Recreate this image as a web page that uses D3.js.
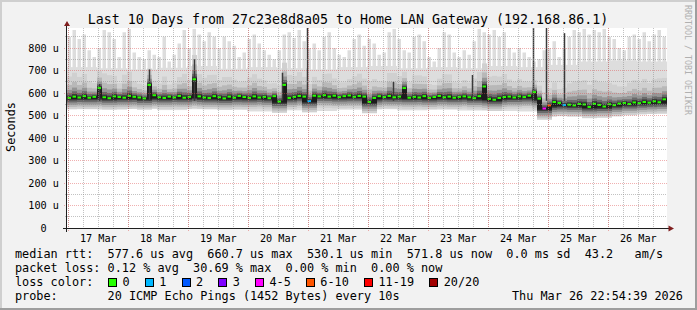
<!DOCTYPE html>
<html>
<head>
<meta charset="utf-8">
<script src="https://cdn.jsdelivr.net/npm/d3@7"></script>
<style>
html, body { margin: 0; padding: 0; background: #f2f2f2; }
svg { display: block; }
text { font-family: "DejaVu Sans Mono", monospace; white-space: pre; }
</style>
</head>
<body>
<svg id="chart" width="697" height="310"></svg>
<script>
// ---- 1. DATA ----
const parse = d3.timeParse("%Y-%m-%d %H:%M");
const startTime = parse("2026-03-16 23:29");
const endTime   = parse("2026-03-26 23:29");

// median rtt, one value every 2 hours (microseconds)
const medianUs = [
  578, 584, 580, 586, 579, 583, 622, 581, 577, 585,
  582, 579, 587, 583, 580, 576, 636, 590, 581, 578,
  584, 580, 587, 579, 583, 661, 585, 580, 578, 586,
  581, 576, 584, 579, 587, 582, 578, 585, 580, 583,
  577, 586, 562, 636, 578, 583, 587, 584, 564, 588,
  585, 590, 584, 588, 582, 586, 589, 583, 587, 584,
  560, 578, 586, 582, 587, 581, 584, 622, 579, 583,
  580, 586, 578, 582, 587, 581, 584, 579, 583, 585,
  581, 577, 586, 629, 574, 570, 578, 582, 584, 580,
  585, 582, 588, 604, 575, 531, 545, 560, 556, 547,
  548, 545, 551, 549, 538, 552, 547, 540, 550, 546,
  553, 556, 551, 558, 555, 560, 557, 563, 559, 572
];

// highest ping of each 2 hour slot (microseconds)
const maxUs = [
  850, 880, 840, 860, 790, 760, 800, 880, 870, 840,
  760, 870, 885, 780, 760, 750, 790, 770, 760, 850,
  740, 770, 820, 880, 800, 885, 860, 830, 870, 850,
  800, 850, 830, 810, 760, 780, 840, 860, 820, 790,
  770, 750, 790, 860, 870, 845, 880, 830, 800, 820,
  790, 850, 870, 800, 770, 760, 790, 840, 860, 810,
  840, 820, 770, 780, 870, 885, 840, 790, 780, 850,
  860, 830, 760, 740, 800, 870, 860, 780, 760, 790,
  770, 830, 885, 870, 860, 880, 850, 870, 800, 780,
  800, 780, 760, 740, 750, 790, 800, 830, 760, 800,
  850, 880, 870, 885, 860, 880, 870, 885, 850, 840,
  800, 790, 850, 860, 840, 870, 830, 860, 880, 850
];

// dense part of the smoke, one value every 12 hours (microseconds)
const capUs = [715, 710, 705, 712, 720, 708, 715, 710, 705, 715,
               720, 710, 715, 710, 720, 715, 725, 740, 745, 740];
const minUs = [528, 526, 530, 524, 528, 525, 518, 523, 520, 526,
               528, 523, 526, 522, 520, 518, 512, 503, 506, 508];

// slots with packet loss
const lossTimes  = ["2026-03-20 23:29", "2026-03-24 21:29", "2026-03-24 23:29", "2026-03-25 05:29"];
const lossCounts = [1, 5, 6, 1];

// dark streaks of single slow pings
const streakTimes = ["2026-03-17 12:40", "2026-03-18 08:40", "2026-03-19 02:40", "2026-03-20 13:50",
                     "2026-03-20 23:30", "2026-03-22 10:15", "2026-03-23 17:50", "2026-03-24 18:05",
                     "2026-03-24 23:20", "2026-03-25 06:40"];
const streakTopUs = [640, 705, 750, 690, 889, 650, 680, 889, 889, 866];

const yTicks   = [0, 100, 200, 300, 400, 500, 600, 700, 800];
const yLabels  = ["0  ", "100 u", "200 u", "300 u", "400 u", "500 u", "600 u", "700 u", "800 u"];
const dayLabels = ["17 Mar", "18 Mar", "19 Mar", "20 Mar", "21 Mar", "22 Mar", "23 Mar", "24 Mar", "25 Mar", "26 Mar"];

const lossLabels = ["0", "1", "2", "3", "4-5", "6-10", "11-19", "20/20"];
const lossColors = ["#26ff00", "#00b8ff", "#0059ff", "#7e00ff", "#ff00ff", "#ff5500", "#ff0000", "#a10000"];

const title = "Last 10 Days from 27c23e8d8a05 to Home LAN Gateway (192.168.86.1)";
const rttRow   = "median rtt:  577.6 us avg  660.7 us max  530.1 us min  571.8 us now  0.0 ms sd  43.2   am/s";
const lossRow  = "packet loss: 0.12 % avg  30.69 % max  0.00 % min  0.00 % now";
const probeRow = "probe:       20 ICMP Echo Pings (1452 Bytes) every 10s";
const stamp    = "Thu Mar 26 22:54:39 2026";

// ---- 2. SVG + SCALES ----
const W = 697, H = 310;
const plot = {left: 67, right: 667, top: 28, bottom: 228};
const svg = d3.select("#chart");

const x = d3.scaleTime().domain([startTime, endTime]).range([plot.left, plot.right]);
const y = d3.scaleLinear().domain([0, 888.9]).range([plot.bottom, plot.top]);

const slots = medianUs.map((m, i) => {
  const near = [medianUs[i - 1], medianUs[i + 1]].filter(v => v !== undefined);
  return {
    t0: d3.timeHour.offset(startTime, i * 2),
    t1: d3.timeHour.offset(startTime, i * 2 + 2),
    med: m,
    low: Math.min(m, d3.min(near)),          // keeps the smoke under a jump
    max: maxUs[i],
    spread: 0.6 + 0.6 * (maxUs[i] - 740) / 145 // taller slots get taller smoke
  };
});
const halfDays = capUs.map((c, i) => ({
  t0: d3.timeHour.offset(startTime, i * 12),
  t1: d3.timeHour.offset(startTime, i * 12 + 12),
  cap: c,
  min: minUs[i]
}));
const lossMap = new Map(lossTimes.map((s, i) => [parse(s).getTime(), lossCounts[i]]));
function lossBucket(n) {
  if (n <= 3) return n;
  if (n <= 5) return 4;
  if (n <= 10) return 5;
  if (n <= 19) return 6;
  return 7;
}

// frame
svg.append("rect").attr("width", W).attr("height", H).attr("fill", "#f2f2f2");
svg.append("rect").attr("x", 0).attr("y", 0).attr("width", W).attr("height", 2).attr("fill", "#cfcfcf");
svg.append("rect").attr("x", 0).attr("y", 0).attr("width", 2).attr("height", H).attr("fill", "#cfcfcf");
svg.append("rect").attr("x", 0).attr("y", H - 2).attr("width", W).attr("height", 2).attr("fill", "#9e9e9e");
svg.append("rect").attr("x", W - 2).attr("y", 0).attr("width", 2).attr("height", H).attr("fill", "#9e9e9e");

// canvas
svg.append("rect")
  .attr("x", plot.left).attr("y", plot.top)
  .attr("width", plot.right - plot.left).attr("height", plot.bottom - plot.top)
  .attr("fill", "#ffffff");

// ---- 3. SMOKE ----
const g = svg.append("g");

g.selectAll(".base").data(halfDays).join("rect")
  .attr("x", d => x(d.t0)).attr("width", d => x(d.t1) - x(d.t0))
  .attr("y", d => y(d.cap)).attr("height", d => y(d.min) - y(d.cap))
  .attr("fill", "#dddddd");

g.selectAll(".peak").data(slots).join("rect")
  .attr("x", d => x(d.t0) + 0.5).attr("width", 3.5)
  .attr("y", d => y(d.max)).attr("height", d => Math.max(0, y(650) - y(d.max)))
  .attr("fill", "#dddddd");

// shading around the median, outer to inner
const shades = [
  {below: 50, above: 90, color: "#d0d0d0"},
  {below: 40, above: 55, color: "#b8b8b8"},
  {below: 30, above: 34, color: "#959595"},
  {below: 20, above: 20, color: "#6a6a6a"},
  {below: 11, above: 10, color: "#3c3c3c"},
  {below: 5,  above: 4,  color: "#1c1c1c"}
];
shades.forEach(s => {
  g.append("g").selectAll("rect").data(slots).join("rect")
    .attr("x", d => x(d.t0)).attr("width", d => x(d.t1) - x(d.t0))
    .attr("y", d => y(d.med + s.above * d.spread))
    .attr("height", d => y(d.low - s.below) - y(d.med + s.above * d.spread))
    .attr("fill", s.color);
});

// streaks
g.selectAll(".streak").data(streakTimes.map((s, i) => ({t: parse(s), top: streakTopUs[i]}))).join("line")
  .attr("x1", d => Math.floor(x(d.t)) + 0.5).attr("x2", d => Math.floor(x(d.t)) + 0.5)
  .attr("y1", y(565)).attr("y2", d => y(d.top))
  .attr("stroke", "#3a3a3a").attr("stroke-width", 1.5);

// median, coloured by loss
g.selectAll(".med").data(slots).join("rect")
  .attr("x", d => x(d.t0) + 0.5).attr("width", 3.5)
  .attr("y", d => y(d.med) - 1).attr("height", 2)
  .attr("fill", d => lossColors[lossBucket(lossMap.get(d.t0.getTime()) || 0)]);

// ---- 4. GRID ----
const grid = svg.append("g");
const minorColor = "rgba(143,143,143,0.55)";
const majorColor = "rgba(222,79,79,0.45)";
const minorV = d3.timeHour.every(6).range(startTime, endTime);
grid.selectAll(".mv").data(minorV).join("line")
  .attr("x1", d => Math.floor(x(d)) + 0.5).attr("x2", d => Math.floor(x(d)) + 0.5)
  .attr("y1", plot.top).attr("y2", plot.bottom + 2)
  .attr("stroke", minorColor).attr("stroke-dasharray", "1,1");

const minorH = d3.range(50, 888, 100);
grid.selectAll(".mh").data(minorH).join("line")
  .attr("x1", plot.left - 2).attr("x2", plot.right)
  .attr("y1", d => Math.floor(y(d)) + 0.5).attr("y2", d => Math.floor(y(d)) + 0.5)
  .attr("stroke", minorColor).attr("stroke-dasharray", "1,1");

const days = d3.timeDay.range(startTime, endTime);
grid.selectAll(".MV").data(days).join("line")
  .attr("x1", d => Math.floor(x(d)) + 0.5).attr("x2", d => Math.floor(x(d)) + 0.5)
  .attr("y1", plot.top).attr("y2", plot.bottom + 3)
  .attr("stroke", majorColor).attr("stroke-dasharray", "1,1");

grid.selectAll(".MH").data(yTicks.slice(1)).join("line")
  .attr("x1", plot.left - 3).attr("x2", plot.right)
  .attr("y1", d => Math.floor(y(d)) + 0.5).attr("y2", d => Math.floor(y(d)) + 0.5)
  .attr("stroke", majorColor).attr("stroke-dasharray", "1,1");

// ---- 5. AXES ----
svg.append("line").attr("x1", plot.left - 4).attr("x2", plot.right + 3)
  .attr("y1", plot.bottom + 0.5).attr("y2", plot.bottom + 0.5).attr("stroke", "#1f1f1f");
svg.append("line").attr("x1", plot.left - 0.5).attr("x2", plot.left - 0.5)
  .attr("y1", plot.bottom + 4).attr("y2", plot.top - 3).attr("stroke", "#1f1f1f");
svg.append("path").attr("d", "M64,26 L70,26 L67,21 Z").attr("fill", "#801f1f");
svg.append("path").attr("d", "M668.5,225.5 L668.5,231.5 L674,228.5 Z").attr("fill", "#801f1f");

svg.append("g").selectAll("text").data(yTicks).join("text")
  .attr("x", 59).attr("y", d => y(d) + 3.7)
  .attr("text-anchor", "end").style("font-size", "10.2px")
  .text((d, i) => yLabels[i]);

svg.append("g").selectAll("text").data(days).join("text")
  .attr("x", d => x(d3.timeHour.offset(d, 12))).attr("y", 242)
  .attr("text-anchor", "middle").style("font-size", "10.2px")
  .text((d, i) => dayLabels[i]);

// ---- 6. TITLES ----
svg.append("text").attr("x", 348).attr("y", 24)
  .attr("text-anchor", "middle").style("font-size", "13.3px").text(title);

svg.append("text").attr("transform", "translate(14.5,127) rotate(-90)")
  .attr("text-anchor", "middle").style("font-size", "11.84px").text("Seconds");

svg.append("text").attr("transform", "translate(685,5) rotate(90)")
  .attr("fill", "#b0b0b0").style("font-size", "8.3px").text("RRDTOOL / TOBI OETIKER");

// ---- 7. LEGEND ----
const leg = svg.append("g").style("font-size", "11.84px");
leg.append("text").attr("x", 15).attr("y", 258).text(rttRow);
leg.append("text").attr("x", 15).attr("y", 272).text(lossRow);
leg.append("text").attr("x", 15).attr("y", 286).text("loss color:");
leg.append("text").attr("x", 15).attr("y", 300).text(probeRow);
leg.append("text").attr("x", 512).attr("y", 300).text(stamp);

const charW = 7.13;
let bx = 108.3;
const boxes = lossLabels.map((lab, i) => {
  const item = {x: bx, label: lab, color: lossColors[i]};
  bx += 15 + lab.length * charW + 14.57;
  return item;
});
leg.selectAll("rect").data(boxes).join("rect")
  .attr("x", d => Math.round(d.x) + 0.5).attr("y", 278.5)
  .attr("width", 8).attr("height", 8)
  .attr("fill", d => d.color).attr("stroke", "#000");
leg.selectAll(".lab").data(boxes).join("text")
  .attr("x", d => d.x + 14.3).attr("y", 286)
  .text(d => d.label);
</script>
</body>
</html>
